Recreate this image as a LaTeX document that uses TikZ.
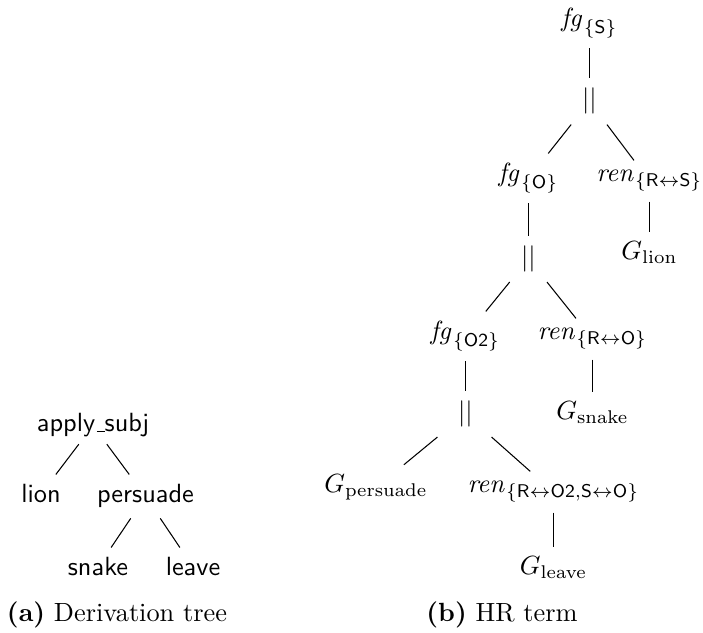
\documentclass[tikz,border=0pt]{standalone}
\begin{document}
\begin{tikzpicture}[x=0.38pt,y=-0.38pt,
  tn/.style={anchor=base,inner sep=3.7pt},
  par/.style={tn,minimum width=24pt,inner ysep=3.6pt},
  captext/.style={anchor=base,inner sep=0pt},
  branch/.style={line width=0.4pt}]
\useasboundingbox (0,0) rectangle (703,633);

% (a) derivation tree
\node[tn,inner ysep=2.4pt] (as) at (93,432)
  {\textsf{apply\kern.06em\vbox{\hrule width.3em}subj}};
\node[tn] (li)  at (41,503)    {\textsf{lion}};
\node[tn] (pe)  at (145.5,503) {\textsf{persuade}};
\node[tn] (sn)  at (98,576)    {\textsf{snake}};
\node[tn] (le)  at (193,576)   {\textsf{leave}};
\draw[branch] (as) -- (li);
\draw[branch] (as) -- (pe);
\draw[branch] (pe) -- (sn);
\draw[branch] (pe) -- (le);
\node[captext] (capa) at (117,622) {\textbf{(a)} Derivation tree};

% (b) HR term
\node[tn]  (fgS)  at (589.5,27)    {$\mathit{fg}_{\{\mathsf{S}\}}$};
\node[par] (p1)   at (589.5,108)   {$||$};
\node[tn]  (fgO)  at (528.5,182)   {$\mathit{fg}_{\{\mathsf{O}\}}$};
\node[tn]  (rRS)  at (649.5,182)   {$\mathit{ren}_{\{\mathsf{R}\leftrightarrow\mathsf{S}\}}$};
\node[par] (p2)   at (528.5,265.5) {$||$};
\node[tn]  (Gli)  at (649.5,260)   {$G_{\mathrm{lion}}$};
\node[tn]  (fgO2) at (465.5,340)   {$\mathit{fg}_{\{\mathsf{O2}\}}$};
\node[tn]  (rRO)  at (592.5,340)   {$\mathit{ren}_{\{\mathsf{R}\leftrightarrow\mathsf{O}\}}$};
\node[par] (p3)   at (465.5,420.5) {$||$};
\node[tn]  (Gsn)  at (592.5,420)   {$G_{\mathrm{snake}}$};
\node[tn]  (Gpe)  at (376,493)     {$G_{\mathrm{persuade}}$};
\node[tn]  (rROSO) at (553.5,493)  {$\mathit{ren}_{\{\mathsf{R}\leftrightarrow\mathsf{O2},\mathsf{S}\leftrightarrow\mathsf{O}\}}$};
\node[tn]  (Gle)  at (553.5,575)   {$G_{\mathrm{leave}}$};

\draw[branch] (fgS) -- (p1);
\draw[branch] (p1) -- (fgO);
\draw[branch] (p1) -- (rRS);
\draw[branch] (fgO) -- (p2);
\draw[branch] (rRS) -- (Gli);
\draw[branch] (p2) -- (fgO2);
\draw[branch] (p2) -- (rRO);
\draw[branch] (fgO2) -- (p3);
\draw[branch] (rRO) -- (Gsn);
\draw[branch] (p3) -- (Gpe);
\draw[branch] (p3) -- (rROSO);
\draw[branch] (rROSO) -- (Gle);
\node[captext] (capb) at (502,622) {\textbf{(b)} HR term};
\end{tikzpicture}
\end{document}
